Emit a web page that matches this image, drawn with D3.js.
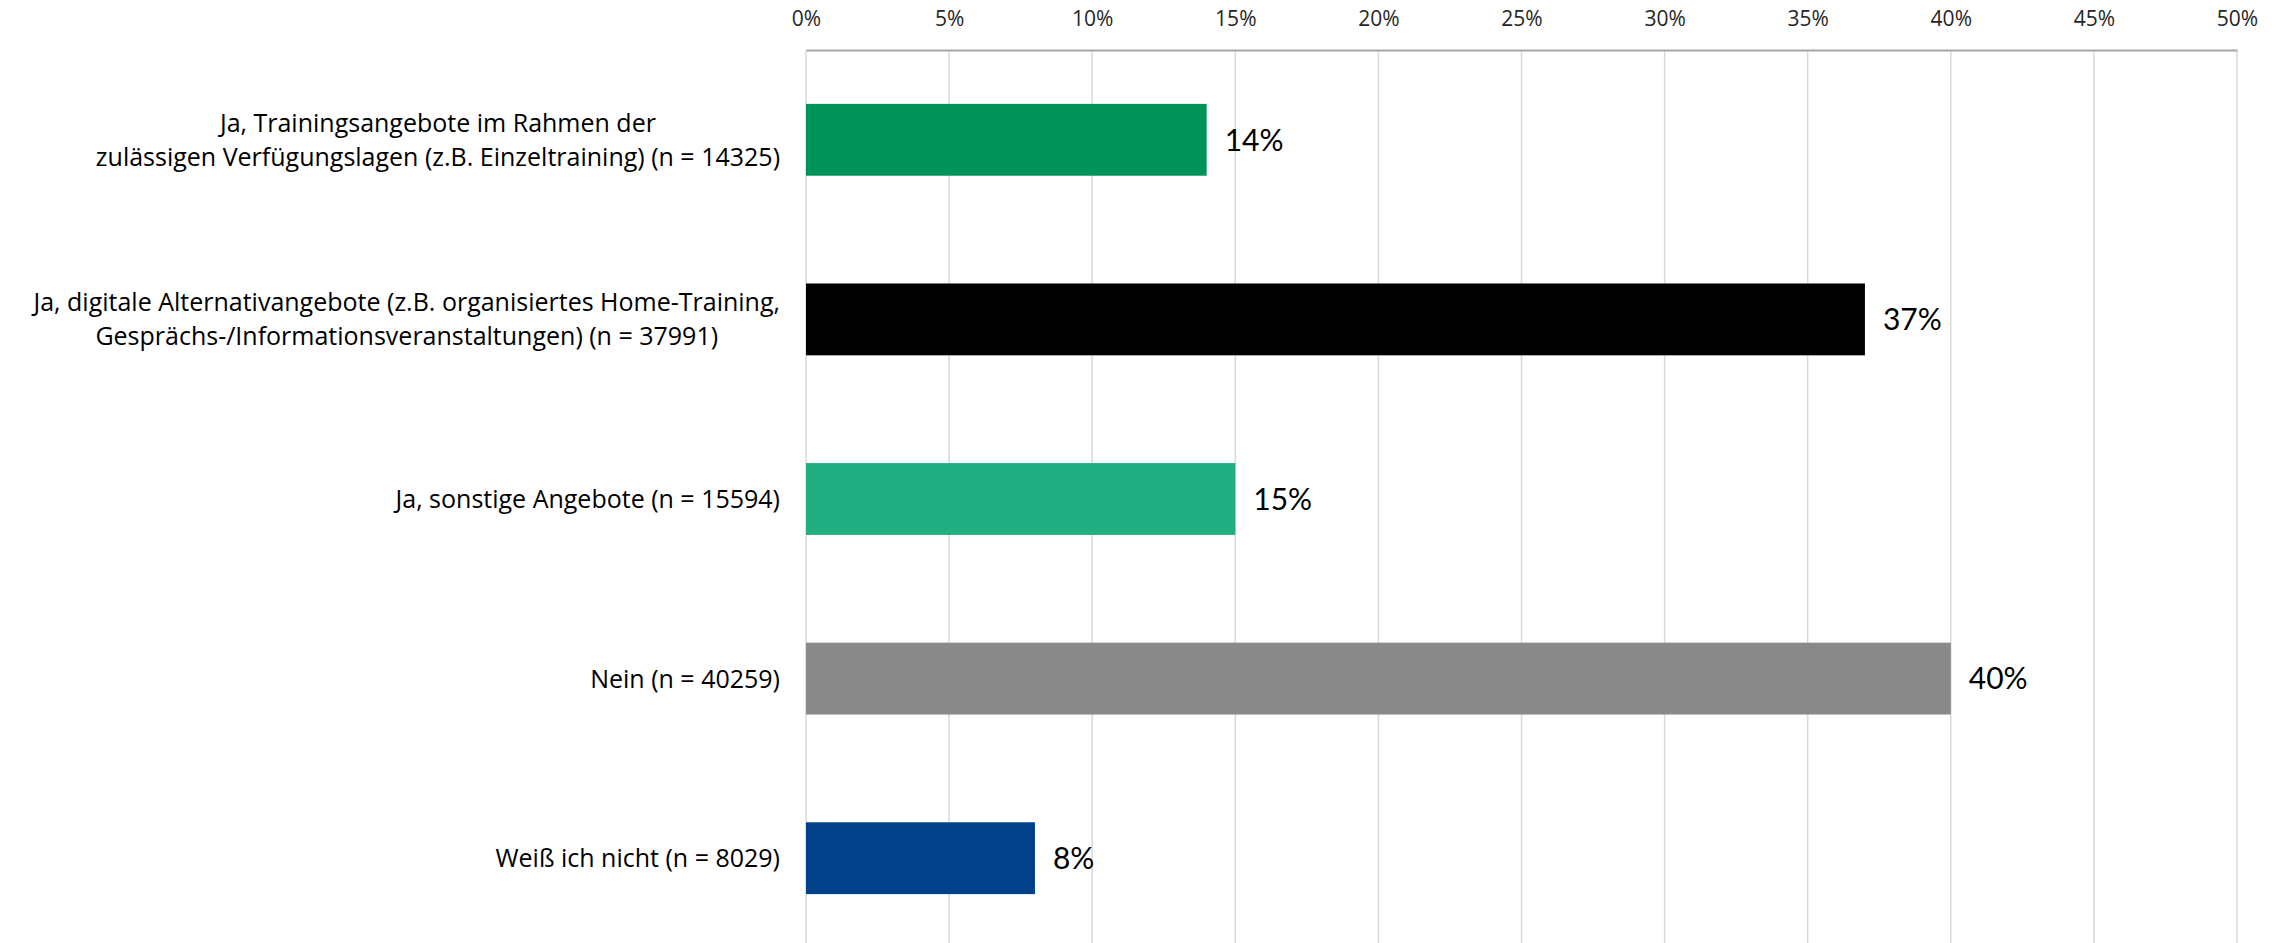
<!DOCTYPE html>
<html>
<head>
<meta charset="utf-8">
<script src="https://d3js.org/d3.v7.min.js"></script>
<style>
  body { margin: 0; background: #fff; }
  svg { display: block; }
</style>
</head>
<body>
<div id="chartHere"></div>
<script>

// data
var categories = [
  ["Ja, Trainingsangebote im Rahmen der", "zulässigen Verfügungslagen (z.B. Einzeltraining) (n = 14325)"],
  ["Ja, digitale Alternativangebote (z.B. organisiertes Home-Training,", "Gesprächs-/Informationsveranstaltungen) (n = 37991)"],
  ["Ja, sonstige Angebote (n = 15594)"],
  ["Nein (n = 40259)"],
  ["Weiß ich nicht (n = 8029)"]
];
var values = [14, 37, 15, 40, 8];
var barColors = ["#00945a", "#000000", "#21ae81", "#898989", "#00418a"];
var ticks = [0, 5, 10, 15, 20, 25, 30, 35, 40, 45, 50];

var dims = { width: 2285, height: 943 };
var margin = { top: 50, right: 48, bottom: 0, left: 806 };

var svg = d3.select("#chartHere").append("svg")
    .attr("width", dims.width)
    .attr("height", dims.height);

var x = d3.scaleLinear()
    .domain([0, 50])
    .range([margin.left, dims.width - margin.right]);

var y = d3.scaleBand()
    .domain(d3.range(categories.length))
    .range([margin.top, 948])
    .paddingInner(0.6)
    .paddingOuter(0.3);

// vertical grid lines
svg.append("g")
  .selectAll("line")
  .data(ticks).enter().append("line")
    .attr("x1", function(d) { return x(d); })
    .attr("x2", function(d) { return x(d); })
    .attr("y1", margin.top)
    .attr("y2", dims.height)
    .attr("stroke", "#d9d9d9")
    .attr("stroke-width", 1.5);

// top axis
var xAxis = d3.axisTop(x)
    .tickValues(ticks)
    .tickSize(0)
    .tickPadding(24)
    .tickFormat(function(d) { return d + "%"; });

var ax = svg.append("g")
    .attr("transform", "translate(0," + margin.top + ")")
    .call(xAxis);
ax.select(".domain").attr("stroke", "#a6a6a6").attr("stroke-width", 2);
ax.selectAll("text")
    .attr("font-family", "'Open Sans', sans-serif")
    .attr("font-size", 21)
    .attr("fill", "#262626");

// bars
svg.append("g")
  .selectAll("rect")
  .data(values).enter().append("rect")
    .attr("x", x(0))
    .attr("y", function(d, i) { return y(i); })
    .attr("width", function(d) { return x(d) - x(0); })
    .attr("height", y.bandwidth())
    .attr("fill", function(d, i) { return barColors[i]; });

// value labels
svg.append("g")
  .selectAll("text")
  .data(values).enter().append("text")
    .attr("x", function(d) { return x(d) + 18; })
    .attr("y", function(d, i) { return y(i) + y.bandwidth() / 2; })
    .attr("dy", "0.36em")
    .attr("font-family", "Lato, 'Open Sans', sans-serif")
    .attr("font-size", 30)
    .attr("fill", "#000")
    .text(function(d) { return d + "%"; });

// category labels, lines centred on each other, block right aligned
var lineH = 34;
var labelRight = 780;
var lab = svg.append("g")
  .selectAll("text")
  .data(categories).enter().append("text")
    .attr("font-family", "'Open Sans', sans-serif")
    .attr("font-size", 25)
    .attr("fill", "#000")
    .attr("text-anchor", "middle");

lab.each(function(lines, i) {
  var t = d3.select(this);
  var cy = y(i) + y.bandwidth() / 2;
  var y0 = cy - (lines.length - 1) * lineH / 2;
  lines.forEach(function(s, k) {
    t.append("tspan").attr("y", y0 + k * lineH).attr("dy", "0.36em").text(s);
  });
  var w = 0;
  t.selectAll("tspan").each(function() { w = Math.max(w, this.getComputedTextLength()); });
  t.selectAll("tspan").attr("x", labelRight - w / 2);
});

</script>
</body>
</html>
